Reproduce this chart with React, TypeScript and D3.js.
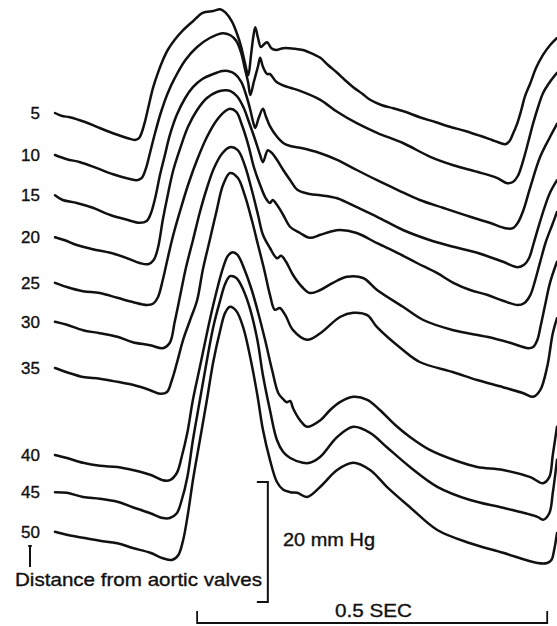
import React from "react";
import * as d3 from "d3";

// distance from aortic valves (cm) for each pressure trace
const distances = [5, 10, 15, 20, 25, 30, 35, 40, 45, 50];

// [time ms, pressure mmHg]
const trace5: [number, number][] = [
  [0, 84.5], [10, 84.0], [21, 83.8], [43, 83.0], [64, 82.0], [86, 81.0], [104, 80.3], [114, 80.0],
  [120, 80.3], [124, 81.3], [129, 83.3], [133, 85.3], [140, 88.7], [147, 91.2], [154, 93.3], [161, 95.0],
  [171, 96.7], [183, 98.3], [197, 99.8], [211, 101.2], [226, 101.5], [236, 101.8], [244, 101.2], [253, 99.7],
  [260, 97.7], [266, 95.5], [271, 93.0], [276, 90.8], [280, 94.2], [283, 97.0], [286, 98.8], [290, 97.0],
  [294, 95.5], [299, 96.0], [303, 96.3], [309, 95.3], [316, 95.0], [326, 95.3], [343, 95.2], [354, 95.0],
  [369, 94.3], [379, 93.7], [390, 92.5], [403, 91.2], [414, 90.0], [426, 88.8], [439, 87.7], [450, 86.7],
  [467, 85.8], [483, 85.3], [500, 84.7], [521, 83.8], [543, 83.0], [564, 82.2], [586, 81.5], [607, 80.7],
  [624, 80.0], [636, 79.5], [643, 79.3], [649, 79.8], [654, 81.0], [660, 82.7], [666, 85.0], [671, 87.2],
  [679, 89.5], [687, 92.0], [697, 94.2], [707, 95.8], [717, 97.0],
];
const trace10: [number, number][] = [
  [0, 77.5], [17, 76.8], [36, 76.3], [60, 75.3], [83, 74.3], [107, 73.5], [117, 73.3], [124, 73.7],
  [130, 75.3], [136, 78.0], [143, 81.2], [151, 84.5], [161, 87.8], [171, 90.3], [186, 93.3], [203, 95.5],
  [221, 97.0], [239, 97.8], [250, 97.5], [259, 96.5], [266, 94.5], [271, 92.0], [276, 89.5], [279, 87.5],
  [284, 89.7], [290, 92.3], [293, 93.7], [297, 92.2], [303, 91.0], [307, 91.0], [316, 89.7], [324, 89.2],
  [336, 88.7], [350, 88.2], [379, 86.7], [403, 84.7], [431, 82.8], [460, 81.2], [497, 79.5], [536, 77.2],
  [569, 75.8], [603, 74.7], [631, 73.7], [646, 72.8], [654, 73.0], [661, 74.0], [669, 76.7], [676, 79.7],
  [683, 82.8], [690, 85.5], [697, 87.8], [707, 89.7], [717, 91.2],
];
const trace15: [number, number][] = [
  [0, 70.8], [11, 70.0], [31, 69.5], [54, 68.7], [79, 67.5], [103, 66.7], [121, 66.2], [131, 66.5],
  [137, 67.8], [143, 70.3], [150, 74.2], [157, 77.5], [164, 80.8], [174, 84.2], [186, 87.0], [197, 88.8],
  [211, 90.2], [226, 91.0], [239, 91.5], [247, 91.5], [257, 91.0], [266, 89.7], [273, 87.5], [279, 85.0],
  [283, 83.0], [286, 82.0], [291, 83.7], [297, 85.2], [301, 84.0], [307, 82.3], [316, 80.7], [326, 79.5],
  [336, 79.0], [350, 78.7], [379, 77.8], [403, 76.7], [431, 75.0], [460, 73.3], [489, 71.7], [521, 70.0],
  [554, 68.7], [593, 67.2], [621, 66.2], [643, 65.3], [654, 65.3], [661, 66.2], [669, 68.3], [679, 72.2],
  [693, 77.2], [707, 80.5], [717, 82.7],
];
const trace20: [number, number][] = [
  [0, 63.8], [14, 63.3], [31, 62.5], [54, 61.8], [79, 61.2], [103, 60.3], [121, 59.5], [133, 59.3],
  [141, 60.0], [147, 62.0], [154, 66.7], [161, 70.8], [169, 75.0], [179, 78.7], [190, 82.2], [203, 85.0],
  [217, 87.0], [231, 88.0], [243, 88.3], [250, 88.2], [260, 87.3], [269, 85.5], [277, 83.0], [286, 80.0],
  [293, 77.5], [297, 76.3], [304, 78.3], [310, 77.8], [317, 76.7], [326, 75.0], [336, 73.3], [346, 71.7],
  [364, 71.0], [379, 70.8], [403, 70.3], [431, 68.8], [460, 67.2], [497, 65.0], [536, 63.3], [569, 62.2],
  [603, 61.2], [640, 59.7], [661, 58.8], [670, 59.2], [677, 60.3], [683, 62.5], [690, 65.3], [699, 68.7],
  [707, 71.2], [717, 73.3],
];
const trace25: [number, number][] = [
  [0, 56.2], [17, 55.5], [40, 54.8], [64, 54.5], [89, 53.7], [111, 53.0], [131, 52.5], [140, 52.7],
  [147, 53.8], [154, 56.7], [161, 60.3], [169, 64.2], [179, 68.3], [190, 72.5], [203, 76.7], [217, 80.5],
  [231, 83.3], [243, 84.8], [250, 85.2], [259, 84.7], [267, 82.5], [276, 79.2], [284, 75.5], [293, 72.5],
  [301, 70.3], [307, 69.5], [311, 70.0], [317, 69.2], [326, 67.5], [336, 65.5], [350, 64.5], [364, 63.7],
  [379, 64.2], [393, 64.7], [407, 65.0], [431, 64.5], [460, 62.8], [489, 61.2], [517, 59.5], [546, 57.8],
  [569, 56.2], [593, 55.0], [617, 54.2], [640, 53.2], [661, 52.5], [670, 52.8], [679, 54.2], [686, 56.7],
  [693, 59.7], [701, 63.0], [710, 65.8], [717, 68.0],
];
const trace30: [number, number][] = [
  [0, 49.7], [17, 49.2], [40, 48.3], [64, 47.8], [89, 47.2], [111, 46.3], [136, 45.8], [154, 45.3],
  [164, 46.2], [171, 49.7], [179, 54.2], [187, 58.7], [197, 63.3], [207, 68.0], [217, 72.0], [227, 75.3],
  [239, 77.8], [250, 78.8], [261, 78.3], [271, 75.8], [281, 71.7], [290, 67.5], [297, 64.2], [307, 62.0],
  [317, 60.3], [323, 60.7], [330, 59.7], [340, 57.5], [353, 55.5], [364, 54.5], [379, 55.0], [397, 56.2],
  [417, 57.2], [440, 57.0], [460, 55.0], [497, 52.2], [526, 50.0], [569, 48.3], [617, 47.2], [650, 46.2],
  [676, 45.3], [683, 45.5], [689, 46.7], [694, 49.2], [700, 52.5], [707, 56.2], [717, 59.7],
];
const trace35: [number, number][] = [
  [0, 42.0], [17, 41.3], [40, 40.5], [64, 40.2], [89, 39.7], [111, 39.2], [136, 38.3], [150, 37.7],
  [160, 38.0], [167, 40.0], [174, 42.8], [183, 46.7], [193, 50.0], [203, 53.3], [211, 58.3], [221, 63.3],
  [231, 68.3], [240, 72.5], [250, 74.5], [261, 73.7], [271, 70.8], [281, 66.7], [290, 62.5], [299, 58.3],
  [307, 54.2], [314, 51.7], [321, 52.0], [329, 50.8], [340, 48.3], [360, 46.7], [379, 47.8], [407, 50.5],
  [426, 51.2], [446, 50.8], [460, 48.8], [497, 45.0], [521, 43.0], [569, 41.3], [603, 40.0], [640, 38.8],
  [669, 37.8], [683, 37.2], [693, 38.3], [703, 42.2], [711, 47.8], [717, 50.3],
];
const trace40: [number, number][] = [
  [0, 27.5], [17, 27.0], [40, 26.2], [64, 25.7], [89, 25.5], [111, 25.0], [136, 24.2], [154, 23.3],
  [164, 23.3], [174, 24.5], [181, 27.2], [189, 31.2], [197, 36.7], [207, 42.2], [217, 47.8], [226, 52.5],
  [233, 55.8], [240, 58.7], [247, 60.7], [254, 61.3], [261, 60.8], [271, 58.3], [281, 55.0], [290, 51.3],
  [300, 46.7], [310, 41.7], [319, 37.8], [326, 36.8], [331, 36.3], [336, 36.5], [340, 35.3], [350, 33.3],
  [360, 32.2], [379, 33.3], [393, 35.0], [407, 36.3], [426, 37.2], [446, 36.7], [464, 35.0], [486, 32.5],
  [507, 30.5], [536, 28.3], [569, 26.7], [603, 25.5], [640, 25.0], [679, 23.8], [697, 22.8], [706, 23.8],
  [711, 27.5], [717, 32.2],
];
const trace45: [number, number][] = [
  [0, 21.3], [17, 21.2], [40, 20.5], [64, 20.2], [89, 19.7], [111, 18.8], [136, 17.8], [154, 17.0],
  [164, 17.0], [174, 17.8], [181, 20.0], [189, 23.8], [197, 30.0], [207, 36.7], [217, 43.3], [226, 48.8],
  [236, 53.3], [243, 56.0], [250, 57.3], [259, 57.0], [269, 55.0], [279, 51.7], [289, 46.7], [297, 40.8],
  [307, 35.0], [317, 30.0], [326, 28.0], [336, 27.0], [354, 26.2], [364, 26.2], [379, 27.2], [403, 30.5],
  [426, 32.2], [450, 31.2], [474, 28.8], [507, 25.5], [546, 22.2], [593, 20.0], [640, 18.7], [689, 17.2],
  [697, 16.7], [706, 17.8], [711, 21.2], [717, 26.7],
];
const trace50: [number, number][] = [
  [0, 14.7], [17, 14.2], [40, 13.7], [64, 13.2], [89, 12.8], [111, 12.0], [136, 11.2], [154, 10.3],
  [167, 10.0], [176, 10.8], [183, 13.3], [190, 17.8], [197, 23.3], [207, 30.0], [217, 36.7], [226, 43.0],
  [236, 48.3], [243, 51.2], [250, 52.2], [259, 51.5], [269, 48.7], [279, 43.7], [289, 37.5], [297, 31.7],
  [307, 26.7], [317, 23.0], [326, 21.7], [336, 21.3], [346, 21.2], [360, 20.5], [379, 22.2], [403, 25.0],
  [426, 26.2], [450, 25.0], [474, 22.2], [507, 18.8], [546, 15.0], [593, 12.8], [640, 11.2], [689, 9.5],
  [703, 9.5], [709, 10.0], [713, 11.7], [717, 14.5],
];

const traces = [trace5, trace10, trace15, trace20, trace25, trace30, trace35, trace40, trace45, trace50];

// calibration bars
const timeBarMs = 500;
const timeBarStart = 203;
const pressureBarMmHg = 20;
const pressureBarBase = 3;
const pressureBarTime = 304;

const W = 557;
const H = 626;

export default function App() {
  const x = d3.scaleLinear().domain([0, 717]).range([55, 557]);
  const y = d3.scaleLinear().domain([0, 100]).range([620, 20]);

  const line = d3
    .line<[number, number]>()
    .x((d) => x(d[0]))
    .y((d) => y(d[1]))
    .curve(d3.curveCatmullRom.alpha(0.5));

  const font = "'Liberation Sans', Arial, Helvetica, sans-serif";

  // time bar
  const tb0 = x(timeBarStart);
  const tb1 = x(timeBarStart + timeBarMs);
  const tbY = y(-0.5);
  // pressure bar
  const pbX = x(pressureBarTime);
  const pbTop = y(pressureBarBase + pressureBarMmHg);
  const pbBot = y(pressureBarBase);

  const txt = { fill: "#111", stroke: "#111", strokeWidth: 0.35 };

  return (
    <svg
      width={W}
      height={H}
      style={{ position: "absolute", left: 0, top: 0, background: "#fff" }}
      fontFamily={font}
    >
      <rect width={W} height={H} fill="#fff" />
      {traces.map((t, i) => (
        <path
          key={i}
          d={line(t) || ""}
          fill="none"
          stroke="#111"
          strokeWidth={2.5}
          strokeLinejoin="round"
          strokeLinecap="round"
        />
      ))}
      {traces.map((t, i) => (
        <text
          key={"l" + i}
          x={40}
          y={y(t[0][1])}
          dy="0.36em"
          textAnchor="end"
          fontSize={17}
          {...txt}
        >
          {distances[i]}
        </text>
      ))}

      {/* marker under the labels */}
      <line x1={30} x2={30} y1={545} y2={567} stroke="#111" strokeWidth={2} />
      <line x1={28} x2={32} y1={546} y2={546} stroke="#111" strokeWidth={1.5} />
      <text x={15} y={586} fontSize={18.5} textLength={247} lengthAdjust="spacingAndGlyphs" {...txt}>
        Distance from aortic valves
      </text>

      {/* 20 mm Hg bar */}
      <path
        d={`M${pbX - 11},${pbTop}H${pbX}V${pbBot}H${pbX - 11}`}
        fill="none"
        stroke="#111"
        strokeWidth={2}
      />
      <text x={283} y={546} fontSize={17.5} textLength={92} lengthAdjust="spacingAndGlyphs" {...txt}>
        {pressureBarMmHg} mm Hg
      </text>

      {/* 0.5 SEC bar */}
      <path
        d={`M${tb0},${tbY - 12}V${tbY}H${tb1}V${tbY - 12}`}
        fill="none"
        stroke="#111"
        strokeWidth={1.8}
      />
      <text x={335} y={617} fontSize={19} textLength={77} lengthAdjust="spacingAndGlyphs" {...txt}>
        {timeBarMs / 1000} SEC
      </text>
    </svg>
  );
}
